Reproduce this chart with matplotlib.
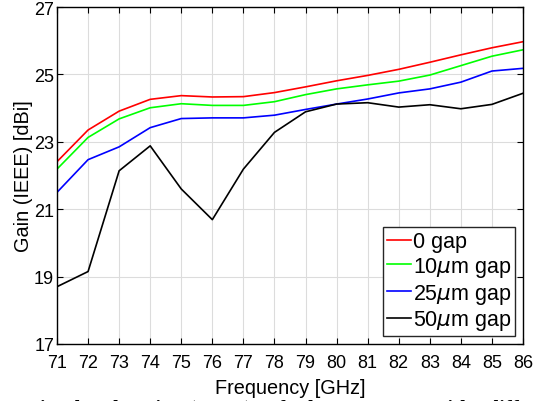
import matplotlib.pyplot as plt

plt.rcParams['font.family'] = ['Liberation Sans', 'DejaVu Sans']
plt.rcParams['mathtext.fontset'] = 'dejavusans'

# frequency points [GHz]
freq = [71, 72, 73, 74, 75, 76, 77, 78, 79, 80, 81, 82, 83, 84, 85, 86]

# gain [dBi] for each gap size
gain_0 = [22.41, 23.35, 23.91, 24.26, 24.37, 24.33, 24.34, 24.46, 24.63,
          24.81, 24.97, 25.15, 25.36, 25.58, 25.79, 25.97]
gain_10 = [22.19, 23.13, 23.68, 24.01, 24.13, 24.08, 24.08, 24.19, 24.40,
           24.57, 24.69, 24.80, 24.98, 25.26, 25.54, 25.73]
gain_25 = [21.50, 22.47, 22.85, 23.42, 23.69, 23.71, 23.71, 23.79, 23.96,
           24.12, 24.27, 24.45, 24.57, 24.77, 25.10, 25.18]
gain_50 = [18.70, 19.15, 22.14, 22.88, 21.60, 20.69, 22.19, 23.28, 23.89,
           24.12, 24.16, 24.03, 24.10, 23.98, 24.11, 24.44]

labels = ['0 gap', r'10$\mu$m gap', r'25$\mu$m gap', r'50$\mu$m gap']
colors = ['#ff0000', '#00ff00', '#0000ff', '#000000']

fig = plt.figure(figsize=(5.34, 4.02), dpi=100)
ax = fig.add_axes([57 / 534, 1 - 345 / 402, (523 - 57) / 534, (345 - 8) / 402])

for g, lab, c in zip([gain_0, gain_10, gain_25, gain_50], labels, colors):
    ax.plot(freq, g, color=c, lw=1.2, label=lab)

ax.set_xlim(71, 86)
ax.set_ylim(17, 27)
ax.set_xticks(freq)
ax.set_yticks([17, 19, 21, 23, 25, 27])
ax.grid(True, color='#dcdcdc', lw=0.8)
ax.set_axisbelow(True)
ax.tick_params(direction='in', top=True, right=True, labelsize=13, length=4,
               width=0.8)
ax.tick_params(axis='x', pad=7)
ax.tick_params(axis='y', pad=2)
for s in ax.spines.values():
    s.set_linewidth(1.0)

ax.set_xlabel('Frequency [GHz]', fontsize=14.3, labelpad=5)
ax.set_ylabel('Gain (IEEE) [dBi]', fontsize=14.3, labelpad=1)

leg = ax.legend(loc='lower right', fontsize=15.5, handlelength=1.1,
                handletextpad=0.1, borderpad=0.2, labelspacing=0.12,
                borderaxespad=0.35, fancybox=False, framealpha=1)
leg.get_frame().set_edgecolor('#262626')
leg.get_frame().set_linewidth(1.0)

# caption of the source figure, cut off at the bottom
fig.text(-0.005, 1 - 400.5 / 402,
         '6.   Simulated   gain   (IEEE)   of   the   antenna   with   diff',
         family=['Liberation Serif', 'DejaVu Serif'], fontsize=15,
         fontweight='bold', va='top', ha='left')

fig.savefig('out.png', dpi=100)
